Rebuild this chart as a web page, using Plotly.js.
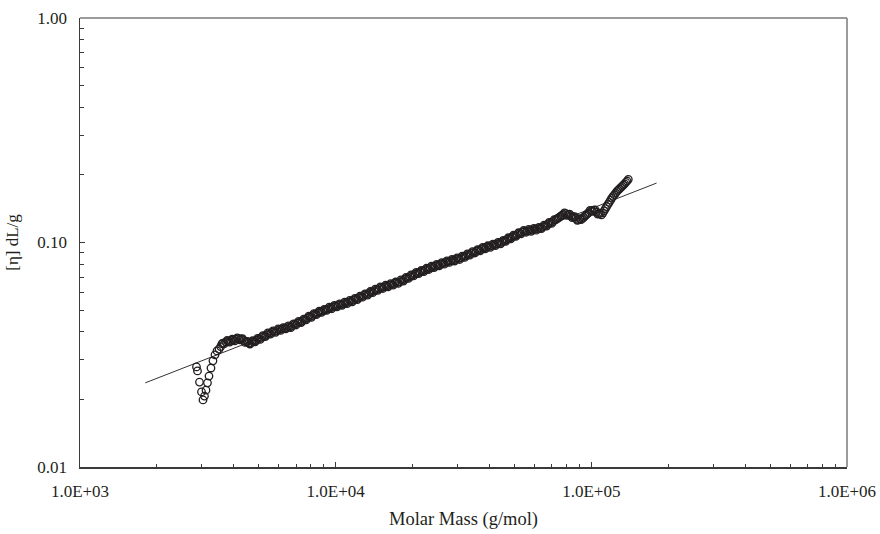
<!DOCTYPE html>
<html>
<head>
<meta charset="utf-8">
<script src="https://cdn.plot.ly/plotly-3.0.1.min.js"></script>
<style>
  html, body { margin: 0; padding: 0; background: #ffffff; }
  #chart { width: 880px; height: 534px; }
</style>
</head>
<body>
<div id="chart"></div>
<script>
// Measured points, first pass: molar mass (g/mol) and intrinsic viscosity (dL/g)
const molarMass = [
  2855, 2881, 2933, 2987, 3027, 3068, 3110, 3152, 3195, 3253, 3312, 3373, 3434, 3497,
  3550, 3630, 3720, 3800, 3890, 3980, 4070, 4170, 4270, 4370, 4470, 4570, 4680, 4790, 4900,
  5010, 5130, 5250, 5370, 5500, 5620, 5750, 5890, 6030, 6170, 6310, 6460, 6610, 6760, 6920,
  7080, 7240, 7410, 7590, 7760, 7940, 8130, 8320, 8510, 8710, 8910, 9120, 9330, 9550, 9770,
  10000, 10230, 10470, 10720, 10960, 11220, 11480, 11750, 12020, 12300, 12590, 12880, 13180,
  13490, 13800, 14130, 14450, 14790, 15140, 15490, 15850, 16220, 16600, 16980, 17380, 17780,
  18200, 18620, 19060, 19500, 19950, 20420, 20890, 21380, 21880, 22390, 22910, 23440, 23990,
  24550, 25120, 25700, 26300, 26920, 27540, 28180, 28840, 29510, 30200, 30900, 31620, 32360,
  33110, 33880, 34670, 35480, 36310, 37150, 38020, 38900, 39810, 40740, 41690, 42660, 43650,
  44670, 45710, 46770, 47860, 48980, 50120, 51290, 52480, 53700, 54950, 56230, 57540, 58880,
  60260, 61660, 63100, 64570, 66070, 67610, 69180, 70800, 72440, 73280, 74130, 74990, 75860,
  76740, 77620, 79430, 81280, 83180, 85110, 87100, 89130, 91200, 92260, 93330, 94410, 95500,
  96610, 97720, 100000, 102300, 104700, 107200, 109600, 110900, 112200, 113500, 114800, 116100,
  117500, 118900, 120200, 121600, 123000, 124500, 125900, 128800, 131800, 134900, 138000, 139500
];
const intrinsicViscosity = [
  0.0279, 0.0268, 0.0239, 0.0216, 0.0199, 0.0207, 0.0220, 0.0237, 0.0254, 0.0276, 0.0297, 0.0316, 0.0329, 0.0335,
  0.0344, 0.0356, 0.0360, 0.0363, 0.0366, 0.0368, 0.0371, 0.0373, 0.0372, 0.0366, 0.0361, 0.0357, 0.0358, 0.0363, 0.0367,
  0.0372, 0.0378, 0.0383, 0.0388, 0.0394, 0.0398, 0.0401, 0.0405, 0.0409, 0.0412, 0.0415, 0.0418, 0.0421, 0.0426, 0.0432,
  0.0437, 0.0442, 0.0448, 0.0454, 0.0461, 0.0467, 0.0473, 0.0480, 0.0486, 0.0491, 0.0496, 0.0501, 0.0506, 0.0511, 0.0516,
  0.0521, 0.0525, 0.0529, 0.0533, 0.0538, 0.0542, 0.0548, 0.0554, 0.0561, 0.0567, 0.0574, 0.0581, 0.0587,
  0.0594, 0.0601, 0.0609, 0.0616, 0.0623, 0.0629, 0.0634, 0.0640, 0.0645, 0.0651, 0.0657, 0.0662, 0.0668,
  0.0677, 0.0686, 0.0695, 0.0705, 0.0714, 0.0724, 0.0731, 0.0739, 0.0747, 0.0755, 0.0763, 0.0771, 0.0779,
  0.0786, 0.0793, 0.0800, 0.0807, 0.0815, 0.0821, 0.0828, 0.0834, 0.0840, 0.0847, 0.0854, 0.0864, 0.0873,
  0.0883, 0.0894, 0.0904, 0.0914, 0.0924, 0.0935, 0.0945, 0.0952, 0.0960, 0.0968, 0.0976, 0.0985, 0.0993,
  0.1004, 0.1017, 0.1031, 0.1044, 0.1058, 0.1071, 0.1085, 0.1099, 0.1114, 0.1121, 0.1127, 0.1133, 0.1139,
  0.1146, 0.1152, 0.1159, 0.1174, 0.1190, 0.1206, 0.1222, 0.1239, 0.1261, 0.1273, 0.1285, 0.1297, 0.1309,
  0.1321, 0.1333, 0.1344, 0.1330, 0.1315, 0.1299, 0.1280, 0.1261, 0.1264, 0.1279, 0.1295, 0.1311, 0.1327,
  0.1343, 0.1359, 0.1388, 0.1395, 0.1366, 0.1343, 0.1327, 0.1353, 0.1383, 0.1414, 0.1445, 0.1477,
  0.1510, 0.1543, 0.1577, 0.1604, 0.1632, 0.1660, 0.1689, 0.1734, 0.1780, 0.1826, 0.1879, 0.1912
];

// Measured points, second pass (slices between the first-pass points)
const molarMassB = [
  3590, 3670, 3760, 3850, 3940, 4030, 4120, 4220, 4320, 4420, 4520, 4620, 4730, 4840, 4950,
  5070, 5190, 5310, 5430, 5560, 5690, 5820, 5960, 6100, 6240, 6380, 6530, 6680, 6840, 7000,
  7160, 7330, 7500, 7670, 7850, 8040, 8220, 8410, 8610, 8810, 9020, 9230, 9440, 9660, 9880,
  10120, 10350, 10590, 10840, 11090, 11350, 11610, 11890, 12160, 12450, 12740, 13030, 13340,
  13650, 13960, 14290, 14620, 14960, 15310, 15670, 16030, 16410, 16790, 17180, 17580, 17990,
  18410, 18840, 19280, 19720, 20180, 20650, 21130, 21630, 22130, 22650, 23170, 23710, 24270,
  24830, 25410, 26000, 26610, 27230, 27860, 28510, 29170, 29850, 30550, 31260, 31990, 32730,
  33500, 34280, 35070, 35890, 36730, 37580, 38460, 39350, 40270, 41210, 42170, 43150, 44160,
  45190, 46240, 47310, 48420, 49550, 50700, 51880, 53090, 54330, 55590, 56890, 58210, 59570,
  60950, 62370, 63830, 65310, 66840, 68390, 69980, 71620, 78520, 80350, 82220, 84140, 86100,
  88100, 90160, 98850, 101200, 103500, 105900, 108400, 127300, 130300, 133300, 136400
];
const intrinsicViscosityB = [
  0.0354, 0.0354, 0.0366, 0.0360, 0.0371, 0.0365, 0.0376, 0.0368, 0.0373, 0.0359, 0.0363, 0.0353, 0.0365, 0.0361, 0.0374,
  0.0370, 0.0385, 0.0381, 0.0396, 0.0391, 0.0404, 0.0398, 0.0412, 0.0406, 0.0418, 0.0412, 0.0425, 0.0418, 0.0434, 0.0429,
  0.0445, 0.0440, 0.0456, 0.0452, 0.0470, 0.0464, 0.0482, 0.0477, 0.0494, 0.0488, 0.0504, 0.0498, 0.0515, 0.0507, 0.0525,
  0.0517, 0.0533, 0.0525, 0.0542, 0.0534, 0.0552, 0.0544, 0.0564, 0.0557, 0.0577, 0.0571, 0.0591, 0.0583,
  0.0605, 0.0598, 0.0620, 0.0612, 0.0634, 0.0624, 0.0645, 0.0635, 0.0656, 0.0646, 0.0667, 0.0657, 0.0681,
  0.0673, 0.0699, 0.0692, 0.0718, 0.0710, 0.0736, 0.0726, 0.0752, 0.0742, 0.0768, 0.0758, 0.0784, 0.0773,
  0.0799, 0.0787, 0.0813, 0.0801, 0.0828, 0.0815, 0.0841, 0.0827, 0.0854, 0.0840, 0.0869, 0.0858, 0.0889,
  0.0878, 0.0910, 0.0898, 0.0930, 0.0918, 0.0951, 0.0937, 0.0967, 0.0952, 0.0984, 0.0969, 0.1001, 0.0987,
  0.1023, 0.1012, 0.1050, 0.1038, 0.1077, 0.1065, 0.1105, 0.1093, 0.1131, 0.1111, 0.1144, 0.1122, 0.1156,
  0.1135, 0.1169, 0.1153, 0.1196, 0.1184, 0.1229, 0.1216, 0.1265, 0.1355, 0.1321, 0.1338, 0.1291, 0.1305,
  0.1255, 0.1278, 0.1390, 0.1375, 0.1397, 0.1338, 0.1351, 0.1711, 0.1757, 0.1803, 0.1853
];

// Power-law fit line (Mark-Houwink)
const fitMass = [1800, 180000];
const fitViscosity = [0.0237, 0.184];

// Axis tick labels
const xTickValues = [1000, 10000, 100000, 1000000];
const xTickLabels = ["1.0E+03", "1.0E+04", "1.0E+05", "1.0E+06"];
const yTickValues = [0.01, 0.1, 1];
const yTickLabels = ["0.01", "0.10", "1.00"];

const xTitle = "Molar Mass (g/mol)";
const yTitle = "[η] dL/g";

function minorLogTicks(majors) {
  const out = [];
  for (let i = 0; i < majors.length - 1; i++) {
    for (let k = 2; k <= 9; k++) out.push(majors[i] * k);
  }
  return out;
}

const fontFamily = "Liberation Serif, Times New Roman, serif";
const axisColor = "#3a3a3a";
const markColor = "#231f20";

const traces = [
  {
    x: fitMass,
    y: fitViscosity,
    type: "scatter",
    mode: "lines",
    line: { color: "#333333", width: 1 },
    hoverinfo: "skip",
    showlegend: false
  },
  {
    x: molarMass.concat(molarMassB),
    y: intrinsicViscosity.concat(intrinsicViscosityB),
    type: "scatter",
    mode: "markers",
    marker: {
      symbol: "circle-open",
      size: 7.5,
      color: markColor,
      line: { color: markColor, width: 1.3 }
    },
    showlegend: false
  }
];

const layout = {
  width: 880,
  height: 534,
  margin: { l: 80, r: 33, t: 18, b: 67 },
  paper_bgcolor: "#ffffff",
  plot_bgcolor: "#ffffff",
  font: { family: fontFamily, size: 17, color: "#231f20" },
  showlegend: false,
  xaxis: {
    type: "log",
    range: [3, 6],
    tickmode: "array",
    tickvals: xTickValues,
    ticktext: xTickLabels,
    ticks: "inside",
    ticklen: 5,
    tickwidth: 1,
    tickcolor: axisColor,
    showline: true,
    linecolor: axisColor,
    linewidth: 1.5,
    showgrid: false,
    zeroline: false,
    ticklabelstandoff: 8,
    minor: {
      tickmode: "array",
      tickvals: minorLogTicks(xTickValues),
      ticks: "inside",
      ticklen: 3.5,
      tickwidth: 1,
      tickcolor: axisColor,
      showgrid: false
    },
    title: { text: xTitle, font: { family: fontFamily, size: 18.5 }, standoff: 12 }
  },
  yaxis: {
    type: "log",
    range: [-2, 0],
    tickmode: "array",
    tickvals: yTickValues,
    ticktext: yTickLabels,
    ticks: "inside",
    ticklen: 5,
    tickwidth: 1,
    tickcolor: axisColor,
    showline: true,
    linecolor: axisColor,
    linewidth: 1.5,
    showgrid: false,
    zeroline: false,
    ticklabelstandoff: 8,
    minor: {
      tickmode: "array",
      tickvals: minorLogTicks(yTickValues),
      ticks: "inside",
      ticklen: 3.5,
      tickwidth: 1,
      tickcolor: axisColor,
      showgrid: false
    },
    title: { text: yTitle, font: { family: fontFamily, size: 17 }, standoff: 14 }
  },
  shapes: [
    { type: "line", xref: "paper", yref: "paper", x0: 0, x1: 1, y0: 1, y1: 1,
      line: { color: "#7a7a7a", width: 1.5 } },
    { type: "line", xref: "paper", yref: "paper", x0: 1, x1: 1, y0: 0, y1: 1,
      line: { color: "#7a7a7a", width: 1.5 } }
  ]
};

Plotly.newPlot("chart", traces, layout, { displayModeBar: false, staticPlot: true });
</script>
</body>
</html>
